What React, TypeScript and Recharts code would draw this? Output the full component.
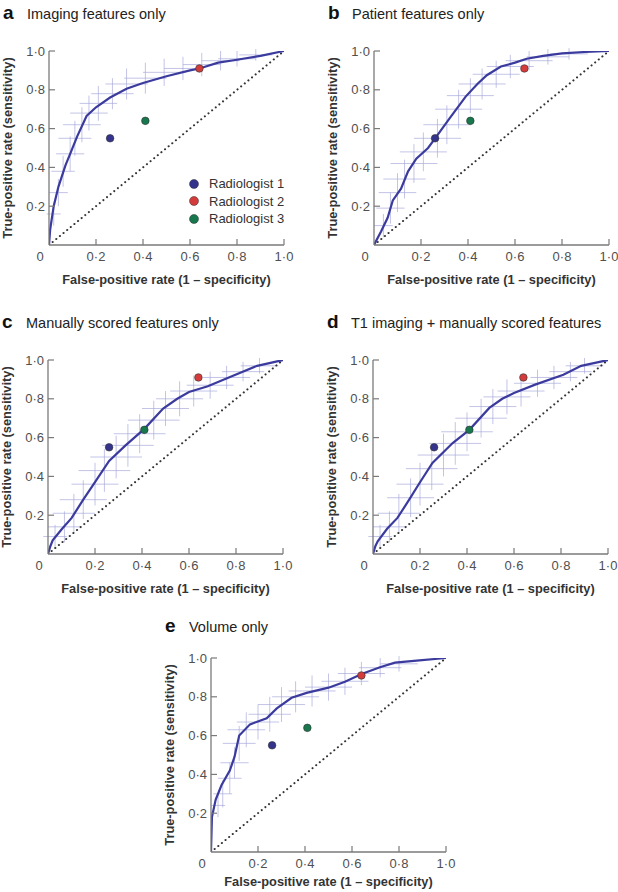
import React from 'react';
import { ComposedChart, ErrorBar, Label, Legend, Line, Scatter, XAxis, YAxis } from 'recharts';

// axis ticks
const xTicks = [0, 0.2, 0.4, 0.6, 0.8, 1];
const yTicks = [0.2, 0.4, 0.6, 0.8, 1];

// radiologist operating points (same in every panel)
const readerNames = ['Radiologist 1', 'Radiologist 2', 'Radiologist 3'];
const readerFpr = [0.26, 0.64, 0.41];
const readerTpr = [0.55, 0.91, 0.64];
const readerColors = ['#34348c', '#d43b3b', '#17774d'];

// chance line
const chance = [
  [0, 0],
  [1, 1],
];

// ROC curves [fpr, tpr]
const curveA = [
  [0, 0], [0.005, 0.08], [0.02, 0.2], [0.04, 0.3], [0.07, 0.41], [0.09, 0.47], [0.12, 0.56],
  [0.16, 0.665], [0.2, 0.71], [0.26, 0.76], [0.33, 0.805], [0.4, 0.835], [0.5, 0.87],
  [0.6, 0.9], [0.64, 0.91], [0.72, 0.94], [0.8, 0.955], [0.9, 0.975], [1, 1],
];
const curveB = [
  [0, 0], [0.03, 0.07], [0.058, 0.14], [0.08, 0.23], [0.115, 0.29], [0.145, 0.38], [0.18, 0.445],
  [0.23, 0.5], [0.26, 0.55], [0.32, 0.65], [0.39, 0.765], [0.44, 0.83], [0.48, 0.875],
  [0.54, 0.92], [0.6, 0.94], [0.65, 0.96], [0.72, 0.975], [0.8, 0.988], [0.9, 0.995], [1, 1],
];
const curveC = [
  [0, 0], [0.01, 0.04], [0.02, 0.07], [0.06, 0.13], [0.1, 0.185], [0.15, 0.28], [0.2, 0.37],
  [0.26, 0.48], [0.33, 0.56], [0.41, 0.645], [0.49, 0.75], [0.55, 0.8], [0.6, 0.835],
  [0.68, 0.865], [0.79, 0.92], [0.89, 0.97], [1, 1],
];
const curveD = [
  [0, 0], [0.01, 0.04], [0.02, 0.065], [0.06, 0.13], [0.104, 0.186], [0.154, 0.28], [0.2, 0.37],
  [0.253, 0.469], [0.339, 0.572], [0.41, 0.64], [0.495, 0.753], [0.55, 0.8], [0.6, 0.83],
  [0.69, 0.873], [0.81, 0.924], [0.886, 0.97], [1, 1],
];
const curveE = [
  [0, 0], [0.004, 0.18], [0.02, 0.27], [0.045, 0.345], [0.08, 0.42], [0.1, 0.49], [0.12, 0.6],
  [0.166, 0.658], [0.237, 0.689], [0.28, 0.74], [0.343, 0.795], [0.407, 0.82], [0.5, 0.847],
  [0.57, 0.878], [0.641, 0.918], [0.719, 0.952], [0.783, 0.976], [0.875, 0.986], [1, 1],
];

// confidence crosses [fpr, tpr, fpr half-width, tpr half-height]
const crossA = [
  [0.02, 0.16, 0.03, 0.06], [0.04, 0.27, 0.04, 0.07], [0.06, 0.38, 0.05, 0.08],
  [0.09, 0.47, 0.06, 0.09], [0.11, 0.55, 0.07, 0.09], [0.14, 0.62, 0.08, 0.09],
  [0.17, 0.68, 0.08, 0.09], [0.21, 0.73, 0.08, 0.09], [0.27, 0.78, 0.09, 0.08],
  [0.33, 0.83, 0.09, 0.08], [0.41, 0.86, 0.09, 0.08], [0.49, 0.89, 0.09, 0.07],
  [0.57, 0.91, 0.08, 0.06], [0.65, 0.93, 0.08, 0.06], [0.73, 0.95, 0.08, 0.05],
  [0.8, 0.96, 0.08, 0.04], [0.88, 0.98, 0.07, 0.03],
];
const crossB = [
  [0.04, 0.1, 0.04, 0.06], [0.07, 0.19, 0.06, 0.08], [0.1, 0.27, 0.08, 0.1],
  [0.13, 0.34, 0.09, 0.1], [0.17, 0.42, 0.1, 0.1], [0.21, 0.48, 0.1, 0.1],
  [0.27, 0.55, 0.1, 0.1], [0.31, 0.62, 0.1, 0.1], [0.36, 0.7, 0.1, 0.1],
  [0.41, 0.77, 0.1, 0.09], [0.46, 0.83, 0.1, 0.08], [0.52, 0.88, 0.1, 0.07],
  [0.58, 0.92, 0.1, 0.06], [0.66, 0.95, 0.1, 0.05], [0.74, 0.97, 0.09, 0.04],
  [0.83, 0.985, 0.08, 0.03],
];
const crossC = [
  [0.03, 0.09, 0.05, 0.06], [0.07, 0.14, 0.07, 0.08], [0.11, 0.21, 0.09, 0.1],
  [0.15, 0.28, 0.1, 0.1], [0.2, 0.36, 0.1, 0.11], [0.24, 0.43, 0.11, 0.11],
  [0.29, 0.5, 0.11, 0.11], [0.34, 0.56, 0.11, 0.11], [0.39, 0.62, 0.11, 0.1],
  [0.45, 0.69, 0.11, 0.1], [0.5, 0.75, 0.1, 0.09], [0.56, 0.8, 0.1, 0.09],
  [0.62, 0.84, 0.1, 0.08], [0.69, 0.87, 0.1, 0.07], [0.76, 0.91, 0.1, 0.06],
  [0.83, 0.94, 0.09, 0.05], [0.9, 0.97, 0.08, 0.04],
];
const crossD = [
  [0.03, 0.09, 0.05, 0.06], [0.07, 0.14, 0.07, 0.08], [0.11, 0.21, 0.09, 0.1],
  [0.16, 0.29, 0.1, 0.1], [0.2, 0.36, 0.1, 0.11], [0.25, 0.44, 0.11, 0.11],
  [0.3, 0.51, 0.11, 0.11], [0.35, 0.57, 0.11, 0.11], [0.4, 0.63, 0.11, 0.1],
  [0.46, 0.7, 0.11, 0.1], [0.51, 0.76, 0.1, 0.09], [0.57, 0.81, 0.1, 0.09],
  [0.63, 0.84, 0.1, 0.08], [0.7, 0.88, 0.1, 0.07], [0.77, 0.91, 0.1, 0.06],
  [0.84, 0.94, 0.09, 0.05], [0.9, 0.97, 0.08, 0.04],
];
const crossE = [
  [0.03, 0.24, 0.03, 0.06], [0.05, 0.3, 0.04, 0.07], [0.08, 0.38, 0.05, 0.08],
  [0.1, 0.46, 0.06, 0.08], [0.12, 0.56, 0.07, 0.09], [0.15, 0.63, 0.08, 0.09],
  [0.2, 0.67, 0.09, 0.09], [0.25, 0.71, 0.09, 0.09], [0.3, 0.76, 0.1, 0.09],
  [0.36, 0.8, 0.1, 0.08], [0.43, 0.83, 0.1, 0.08], [0.5, 0.85, 0.1, 0.07],
  [0.57, 0.88, 0.1, 0.07], [0.64, 0.92, 0.1, 0.06], [0.72, 0.95, 0.09, 0.05],
  [0.8, 0.97, 0.08, 0.04],
];

const FONT = '"Liberation Sans", Arial, Helvetica, sans-serif';
const AXIS = '#7a7a7a';
const X_MARGIN = 7;
const Y_MARGIN = 4;

const fmt = (v: number) => (v === 0 ? '0' : v.toFixed(1).replace('.', '\u00b7'));
const toPts = (arr: number[][]) => arr.map(([x, y]) => ({ x, y }));
const toCross = (arr: number[][]) => arr.map(([x, y, ex, ey]) => ({ x, y, ex, ey }));

const XTick = (p: any) => {
  const { x, y, payload } = p;
  const v = payload.value;
  return (
    <g>
      {v !== 0 && (
        <line x1={x} x2={x} y1={y - X_MARGIN} y2={y - X_MARGIN - 6} stroke={AXIS} strokeWidth={1.2} />
      )}
      <text x={v === 0 ? x - 9 : x} y={y} dy="0.71em" textAnchor="middle" fontFamily={FONT} fontSize={13} fill="#505050">
        {fmt(v)}
      </text>
    </g>
  );
};

const YTick = (p: any) => {
  const { x, y, payload } = p;
  return (
    <g>
      <line x1={x + Y_MARGIN} x2={x + Y_MARGIN + 6} y1={y} y2={y} stroke={AXIS} strokeWidth={1.2} />
      <text x={x} y={y} dy="0.355em" textAnchor="end" fontFamily={FONT} fontSize={13} fill="#505050">
        {fmt(payload.value)}
      </text>
    </g>
  );
};

const ReaderLegend = () => (
  <div style={{ fontFamily: FONT, fontSize: 13, color: '#333' }}>
    {readerNames.map((n, i) => (
      <div key={n} style={{ display: 'flex', alignItems: 'center', height: 17.5 }}>
        <svg width={10} height={10} style={{ marginRight: 10 }}>
          <circle cx={5} cy={5} r={4.5} fill={readerColors[i]} stroke="#333" strokeWidth={0.5} />
        </svg>
        <span>{n}</span>
      </div>
    ))}
  </div>
);

type PanelProps = {
  left: number;
  top: number;
  letter: string;
  title: string;
  titleBase: number;
  xLabelBase: number;
  curve: number[][];
  crosses: number[][];
  legend?: boolean;
};

const RocPanel = ({ left, top, letter, title, titleBase, xLabelBase, curve, crosses, legend }: PanelProps) => (
  <div style={{ position: 'absolute', left, top, width: 300, height: 290 }}>
    <div
      style={{
        position: 'absolute', left: 3, top: titleBase - 0.8465 * 19, fontFamily: FONT,
        fontSize: 19, fontWeight: 700, lineHeight: 1, color: '#111',
      }}
    >
      {letter}
    </div>
    <div
      style={{
        position: 'absolute', left: 27, top: titleBase - 0.8465 * 14.5, fontFamily: FONT,
        fontSize: 14.5, lineHeight: 1, color: '#222', whiteSpace: 'nowrap',
      }}
    >
      {title}
    </div>
    <ComposedChart width={300} height={290} margin={{ top: 51, right: 16, bottom: 0, left: 0 }}>
      <XAxis
        type="number"
        dataKey="x"
        domain={[0, 1]}
        ticks={xTicks}
        allowDataOverflow
        height={45}
        tickSize={0}
        tickMargin={X_MARGIN}
        tick={XTick}
        axisLine={{ stroke: AXIS, strokeWidth: 1.3 }}
      >
        <Label
          content={(p: any) => (
            <text
              x={p.viewBox.x + p.viewBox.width / 2}
              y={p.viewBox.y + xLabelBase}
              textAnchor="middle"
              fontFamily={FONT}
              fontSize={12.8}
              fontWeight={700}
              fill="#333"
            >
              False-positive rate (1 – specificity)
            </text>
          )}
        />
      </XAxis>
      <YAxis
        type="number"
        dataKey="y"
        domain={[0, 1]}
        ticks={yTicks}
        allowDataOverflow
        width={49}
        tickSize={0}
        tickMargin={Y_MARGIN}
        tick={YTick}
        axisLine={{ stroke: AXIS, strokeWidth: 1.3 }}
      >
        <Label
          content={(p: any) => {
            const cx = p.viewBox.x + 12;
            const cy = p.viewBox.y + p.viewBox.height / 2;
            return (
              <text
                x={cx}
                y={cy}
                transform={`rotate(-90, ${cx}, ${cy})`}
                textAnchor="middle"
                fontFamily={FONT}
                fontSize={12.8}
                fontWeight={700}
                fill="#333"
              >
                True-positive rate (sensitivity)
              </text>
            );
          }}
        />
      </YAxis>
      <Scatter data={toCross(crosses)} shape={() => <g />} isAnimationActive={false} legendType="none">
        <ErrorBar dataKey="ex" direction="x" width={0} stroke="#a9abdc" strokeOpacity={0.7} strokeWidth={1} isAnimationActive={false} />
        <ErrorBar dataKey="ey" direction="y" width={0} stroke="#a9abdc" strokeOpacity={0.7} strokeWidth={1} isAnimationActive={false} />
      </Scatter>
      <Line
        data={toPts(chance)}
        dataKey="y"
        stroke="#333"
        strokeWidth={2}
        strokeDasharray="0.1 4.6"
        strokeLinecap="round"
        dot={false}
        isAnimationActive={false}
        legendType="none"
      />
      <Line
        data={toPts(curve)}
        dataKey="y"
        type="linear"
        stroke="#3b3b9e"
        strokeWidth={2.2}
        dot={false}
        isAnimationActive={false}
        legendType="none"
      />
      {readerNames.map((n, i) => (
        <Scatter
          key={n}
          name={n}
          data={[{ x: readerFpr[i], y: readerTpr[i] }]}
          fill={readerColors[i]}
          isAnimationActive={false}
          shape={(s: any) => (
            <circle cx={s.cx} cy={s.cy} r={3.8} fill={readerColors[i]} stroke="#333" strokeWidth={0.6} />
          )}
        />
      ))}
      {legend && (
        <Legend
          layout="vertical"
          align="center"
          verticalAlign="middle"
          content={() => <ReaderLegend />}
          wrapperStyle={{ left: 189, top: 175, width: 110 }}
        />
      )}
    </ComposedChart>
  </div>
);

export default function App() {
  return (
    <div style={{ position: 'absolute', left: 0, top: 0, width: 618, height: 892, overflow: 'hidden', background: '#fff' }}>
      <RocPanel left={0} top={0} letter="a" title="Imaging features only" titleBase={19} xLabelBase={39} curve={curveA} crosses={crossA} legend />
      <RocPanel left={325} top={0} letter="b" title="Patient features only" titleBase={19} xLabelBase={39} curve={curveB} crosses={crossB} />
      <RocPanel left={-1} top={309} letter="c" title="Manually scored features only" titleBase={19} xLabelBase={39} curve={curveC} crosses={crossC} />
      <RocPanel left={324} top={309} letter="d" title="T1 imaging + manually scored features" titleBase={19} xLabelBase={39} curve={curveD} crosses={crossD} />
      <RocPanel left={162} top={607} letter="e" title="Volume only" titleBase={25} xLabelBase={34} curve={curveE} crosses={crossE} />
    </div>
  );
}
